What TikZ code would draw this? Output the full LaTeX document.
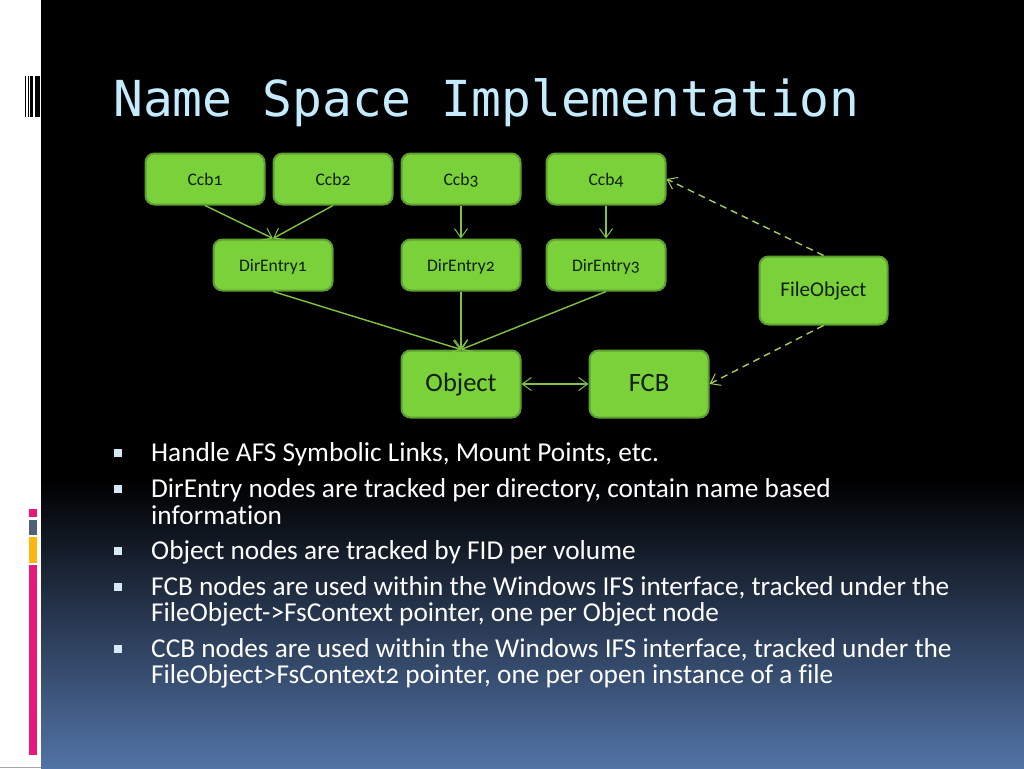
\documentclass[tikz,border=0pt]{standalone}
\usepackage{fontspec}
\setmainfont[Numbers=OldStyle,Ligatures=NoCommon]{Carlito}
\newfontfamily\titlefont{DejaVu Sans Mono}
\usetikzlibrary{arrows.meta}
\definecolor{boxgreen}{HTML}{7AD13A}
\definecolor{boxedge}{HTML}{5E9F32}
\definecolor{linkgreen}{HTML}{80C342}
\definecolor{dashgreen}{HTML}{A4CE5E}
\definecolor{titleblue}{HTML}{C5EBFF}
\definecolor{markblue}{HTML}{D5E8F5}
\definecolor{bottomblue}{HTML}{5273A6}
\definecolor{barpink}{HTML}{E8177B}
\definecolor{bargrey}{HTML}{4F6078}
\definecolor{barorange}{HTML}{FFB60F}
\tikzset{
    box/.style={draw=boxedge, line width=2pt, fill=boxgreen, rounded corners=9pt, text=black!85!boxgreen, inner sep=0pt},
    smallbox/.style={box, minimum width=119pt, minimum height=51pt, text height=15pt, text depth=3pt, font=\fontsize{17.6}{20}\selectfont},
    filebox/.style={box, minimum width=128pt, minimum height=68pt, text height=17pt, text depth=4.6pt, font=\fontsize{21}{24}\selectfont},
    bigbox/.style={box, minimum width=119pt, minimum height=67pt, text height=20pt, text depth=4.6pt, font=\fontsize{26.5}{30}\selectfont},
    link/.style={draw=linkgreen, line width=1.4pt, -{Straight Barb[length=9pt,width=13pt,line width=1pt]}},
    dashlink/.style={link, draw=dashgreen, dash pattern=on 7pt off 5pt},
    bullettext/.style={text=white, anchor=north west, align=left, inner sep=0pt, font=\fontsize{27.3}{26.5}\selectfont},
    bulletmark/.style={fill=markblue, inner sep=0pt, minimum size=8pt}
}
\begin{document}
\begin{tikzpicture}[x=1pt, y=-1pt]
    \useasboundingbox (0,0) rectangle (1024,768);

    % page background
    \fill[white] (0,0) rectangle (41,768);
    \fill[black] (41,0) rectangle (1024,480);
    \shade[top color=black, bottom color=bottomblue] (41,480) rectangle (1024,768);
    \fill[black!35] (0,767) rectangle (41,768);

    % bars at the left edge
    \foreach \l/\r in {25/26, 28.3/29.3, 30.3/32.7, 34.7/40} {
        \fill[black] (\l,76) rectangle (\r,117);
    }
    \foreach \t/\b/\c in {509/517/barpink, 520/534.5/bargrey, 537/563/barorange, 565/755/barpink} {
        \fill[\c] (28.5,\t) rectangle (37,\b);
    }

    \node[text=titleblue, font=\titlefont\fontsize{49.6}{55}\selectfont, anchor=base west, inner sep=0pt] (title) at (113,116) {Name Space Implementation};

    % the boxes
    \foreach \name/\x/\txt in {ccba/205/Ccb1, ccbb/333/Ccb2, ccbc/461/Ccb3, ccbd/606/Ccb4} {
        \node[smallbox] (\name) at (\x,179) {\txt};
    }
    \foreach \name/\x/\txt in {dira/273/DirEntry1, dirb/461/DirEntry2, dirc/606/DirEntry3} {
        \node[smallbox] (\name) at (\x,265) {\txt};
    }
    \node[filebox] (file) at (823.5,290.5) {FileObject};
    \node[bigbox] (object) at (461,384) {Object};
    \node[bigbox] (fcb) at (649,384) {FCB};

    % the connectors
    \foreach \from/\to in {ccba/dira, ccbb/dira, ccbc/dirb, ccbd/dirc, dira/object, dirb/object, dirc/object} {
        \draw[link] (\from.south) -- (\to.north);
    }
    \draw[link, {Straight Barb[length=9pt,width=13pt,line width=1pt]}-{Straight Barb[length=9pt,width=13pt,line width=1pt]}] (object) -- (fcb);
    \draw[dashlink] (file.north) -- (ccbd.east);
    \draw[dashlink] (file.south) -- (fcb.east);

    % the list
    \foreach \name/\y/\txt in {
        bulleta/442.5/{Handle AFS Symbolic Links, Mount Points, etc.},
        bulletb/478.5/{DirEntry nodes are tracked per directory, contain name based\\information},
        bulletc/540.5/{Object nodes are tracked by FID per volume},
        bulletd/576/{FCB nodes are used within the Windows IFS interface, tracked under the\\FileObject->FsContext pointer, one per Object node},
        bullete/638/{CCB nodes are used within the Windows IFS interface, tracked under the\\FileObject>FsContext2 pointer, one per open instance of a file}} {
        \node[bullettext] (\name) at (151,\y) {\txt};
        \node[bulletmark] (\name mark) at (118,\y+10.5) {};
    }
\end{tikzpicture}
\end{document}
